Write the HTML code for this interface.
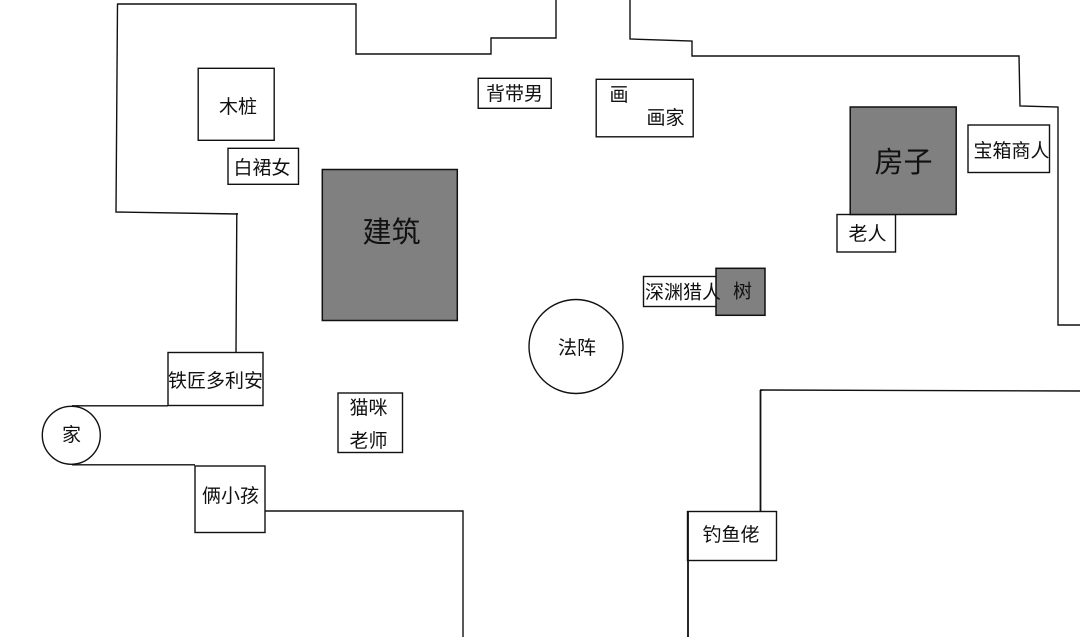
<!DOCTYPE html>
<html><head><meta charset="utf-8"><style>
html,body{margin:0;padding:0;background:#fff;width:1080px;height:637px;overflow:hidden}
svg{display:block}
text{font-family:"Liberation Sans","Noto Sans CJK SC",sans-serif;fill:#111}
</style></head><body>
<svg width="1080" height="637" viewBox="0 0 1080 637" xmlns="http://www.w3.org/2000/svg">
<g fill="none" stroke="#111" stroke-width="1.4">
<polyline points="117,4 356,4 356,54 491,54 491,38 556,38 556,0"/>
<polyline points="117.500,4 116,212 238,214"/>
<line x1="236.800" y1="213" x2="236" y2="352"/>
<polyline points="630,0 630,39 692,41 692,56 1019,56 1020,106 1058,107 1058,325 1080,325"/>
<line x1="1080" y1="391" x2="760" y2="390"/>
<line x1="760.500" y1="390" x2="760.500" y2="511" stroke-width="1.800"/>
<line x1="688" y1="511" x2="688" y2="637" stroke-width="1.800"/>
<polyline points="265,511 463,511 463,637"/>
<line x1="72" y1="405.800" x2="168" y2="405.800"/>
<line x1="72" y1="464.800" x2="195" y2="464.800"/>
<rect x="198.200" y="68.300" width="76" height="72"/>
<rect x="228" y="148.300" width="70.500" height="36"/>
<rect x="478.200" y="78.300" width="73" height="30"/>
<rect x="596.200" y="79.300" width="97" height="57.500"/>
<rect x="968" y="125" width="81.500" height="47.500"/>
<rect x="837" y="214.500" width="58.500" height="37.500"/>
<rect x="643.500" y="276.500" width="73" height="30"/>
<rect x="168" y="352.500" width="95" height="53"/>
<rect x="338" y="393" width="64.500" height="59.500"/>
<rect x="195" y="466" width="70" height="66.500"/>
<rect x="687.500" y="511.500" width="89" height="49"/>
<circle cx="576" cy="346.500" r="47"/>
<circle cx="71.300" cy="435.300" r="29"/>
</g>
<g fill="#808080" stroke="#111" stroke-width="1.500">
<rect x="322.300" y="169.500" width="135" height="151"/>
<rect x="850.200" y="107" width="106" height="107.500"/>
<rect x="716" y="268.300" width="49" height="47"/>
</g>
<g text-anchor="middle" font-size="19">
<text x="238" y="113">木桩</text>
<text x="262" y="174">白裙女</text>
<text x="514.500" y="100">背带男</text>
<text x="619" y="101">画</text>
<text x="665.500" y="124">画家</text>
<text x="1011.500" y="157">宝箱商人</text>
<text x="867.500" y="240">老人</text>
<text x="683" y="298.500">深渊猎人</text>
<text x="742.500" y="297.500">树</text>
<text x="577" y="354">法阵</text>
<text x="215.500" y="387">铁匠多利安</text>
<text x="368.500" y="414">猫咪</text>
<text x="368.500" y="447">老师</text>
<text x="71.500" y="441">家</text>
<text x="230.500" y="502">俩小孩</text>
<text x="731" y="541">钓鱼佬</text>
<text x="391.500" y="242" font-size="29">建筑</text>
<text x="903.500" y="172" font-size="29">房子</text>
</g>
</svg>
</body></html>
